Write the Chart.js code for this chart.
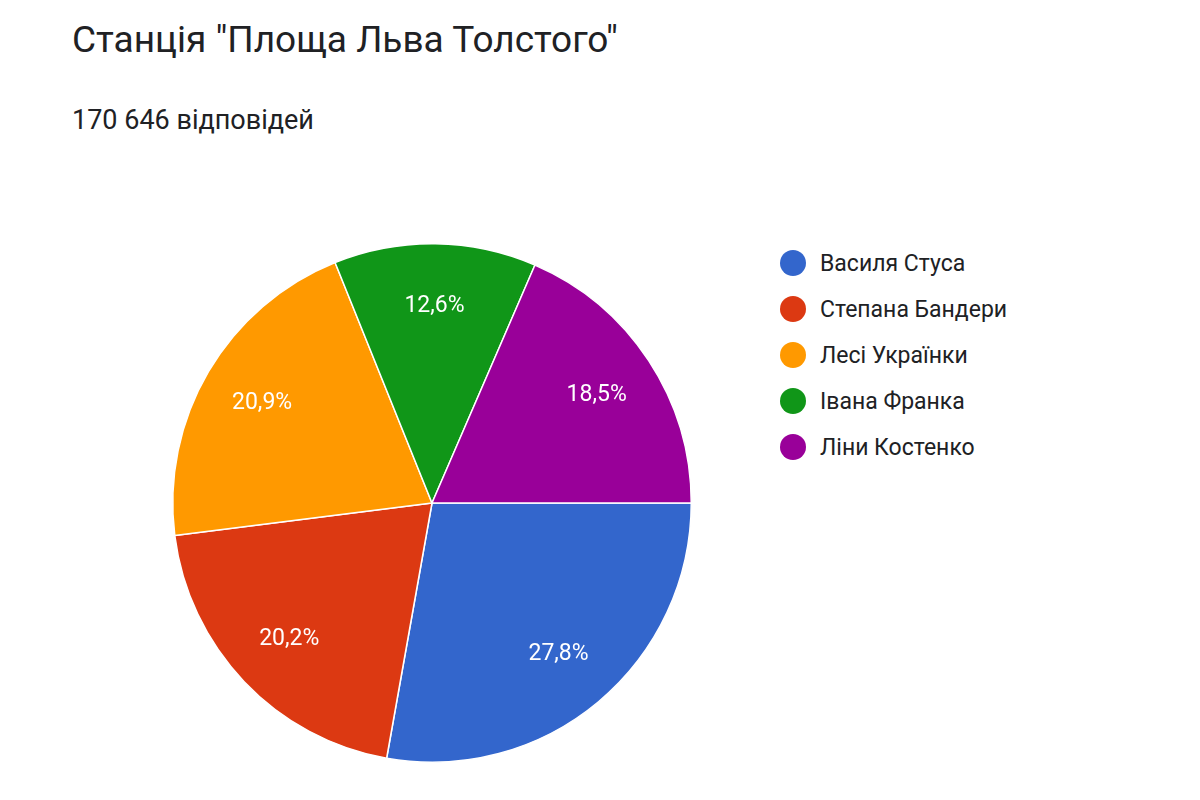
<!DOCTYPE html>
<html><head><meta charset="utf-8">
<script src="https://cdn.jsdelivr.net/npm/chart.js@4"></script>
<style>
body{margin:0;background:#fff;font-family:Roboto,"Noto Sans",sans-serif;}
#wrap{position:relative;width:1200px;height:800px;overflow:hidden;}
#title{position:absolute;left:72px;top:18px;font-size:37px;color:#202124;}
#sub{position:absolute;left:72px;top:104px;font-size:27px;color:#202124;}
#legend{position:absolute;left:780px;top:240px;font-size:23px;color:#202124;}
.row{height:46px;display:flex;align-items:center;}
.dot{width:26px;height:26px;border-radius:50%;margin-right:14px;}
canvas{position:absolute;left:0;top:0;}
</style></head><body>
<div id="wrap">
<div id="title">Станція "Площа Льва Толстого"</div>
<div id="sub">170 646 відповідей</div>
<div id="legend"></div>
<canvas id="c" width="1200" height="800"></canvas>
</div>
<script>
const categories=["Василя Стуса","Степана Бандери","Лесі Українки","Івана Франка","Ліни Костенко"];
const values=[27.8,20.2,20.9,12.6,18.5];
const colors=["#3366cc","#dc3912","#ff9900","#109618","#990099"];
const lg=document.getElementById('legend');
categories.forEach((c,i)=>{lg.innerHTML+=`<div class="row"><div class="dot" style="background:${colors[i]}"></div>${c}</div>`;});
const labelPlugin={id:'lbl',afterDatasetsDraw(chart){
  const ctx=chart.ctx;const meta=chart.getDatasetMeta(0);
  ctx.save();ctx.fillStyle='#fff';ctx.font='23px Roboto, sans-serif';ctx.textAlign='center';ctx.textBaseline='middle';
  meta.data.forEach((a,i)=>{const m=(a.startAngle+a.endAngle)/2;const r=a.outerRadius*0.76;
    ctx.fillText(values[i].toFixed(1).replace('.',',')+'%',a.x+Math.cos(m)*r,a.y+Math.sin(m)*r);});
  ctx.restore();}};
new Chart(document.getElementById('c'),{type:'pie',
 data:{labels:categories,datasets:[{data:values,backgroundColor:colors,borderColor:'#fff',borderWidth:1.5}]},
 options:{responsive:false,animation:false,rotation:90,
  layout:{padding:{left:172,right:508,top:243,bottom:37}},
  plugins:{legend:{display:false},tooltip:{enabled:false}}},
 plugins:[labelPlugin]});
</script>
</body></html>
